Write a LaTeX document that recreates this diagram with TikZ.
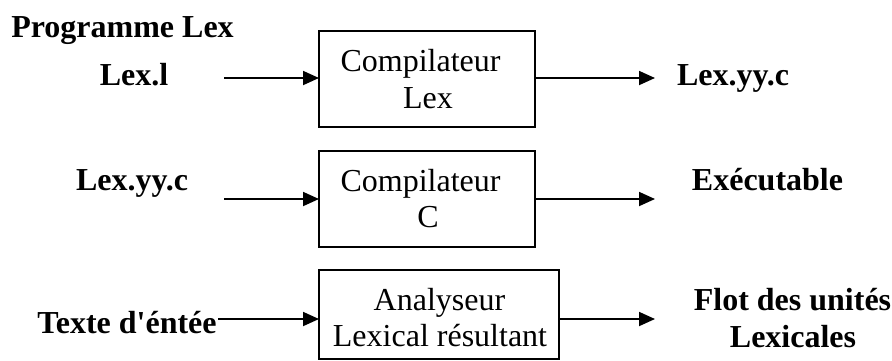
\documentclass[tikz,border=0pt]{standalone}
\usepackage{fontspec}
\setmainfont{Liberation Serif}
\usetikzlibrary{arrows.meta}
\begin{document}
\begin{tikzpicture}[x=1pt,y=-1pt,
  every node/.style={inner sep=0pt,outer sep=0pt,font=\fontsize{32}{38}\selectfont},
  blk/.style={draw,line width=2pt,minimum width=#1},
  lbl/.style={anchor=base,font=\fontsize{32}{38}\selectfont\bfseries},
  txt/.style={anchor=base},
  arr/.style={line width=1.8pt,-{Triangle[length=16pt,width=14pt]}}]
\useasboundingbox (0,0) rectangle (892,360);
% boxes
\node[blk=216pt,minimum height=96pt] (b1) at (427,79) {};
\node[blk=216pt,minimum height=96pt] (b2) at (427,199) {};
\node[blk=240pt,minimum height=89pt] (b3) at (439,314.5) {};
% box texts
\node[txt] (t1a) at (420.5,71.7) {Compilateur};
\node[txt] (t1b) at (428,108.3) {Lex};
\node[txt] (t2a) at (420.5,191.7) {Compilateur};
\node[txt] (t2b) at (428,227.7) {C};
\node[txt] (t3a) at (439.5,310.7) {Analyseur};
\node[txt] (t3b) at (440,346.7) {Lexical résultant};
% labels
\node[lbl] (prog) at (122.5,37) {Programme Lex};
\node[lbl] (lexl) at (134,85) {Lex.l};
\node[lbl] (out1) at (733,85) {Lex.yy.c};
\node[lbl] (in2) at (132,190) {Lex.yy.c};
\node[lbl] (out2) at (767.5,190) {Exécutable};
\node[lbl] (in3) at (127,333) {Texte d\textquotesingle éntée};
\node[lbl] (out3a) at (792.5,310) {Flot des unités};
\node[lbl] (out3b) at (793,347) {Lexicales};
% arrow ends
\coordinate (s1) at (224,78);
\coordinate (s2) at (224,199);
\coordinate (s3) at (218,319);
\coordinate (e1) at (655,78);
\coordinate (e2) at (655,199);
\coordinate (e3) at (655,319);
\draw[arr] (s1) -- (b1.west |- s1);
\draw[arr] (s2) -- (b2.west |- s2);
\draw[arr] (s3) -- (b3.west |- s3);
\draw[arr] (b1.east |- e1) -- (e1);
\draw[arr] (b2.east |- e2) -- (e2);
\draw[arr] (b3.east |- e3) -- (e3);
\end{tikzpicture}
\end{document}
